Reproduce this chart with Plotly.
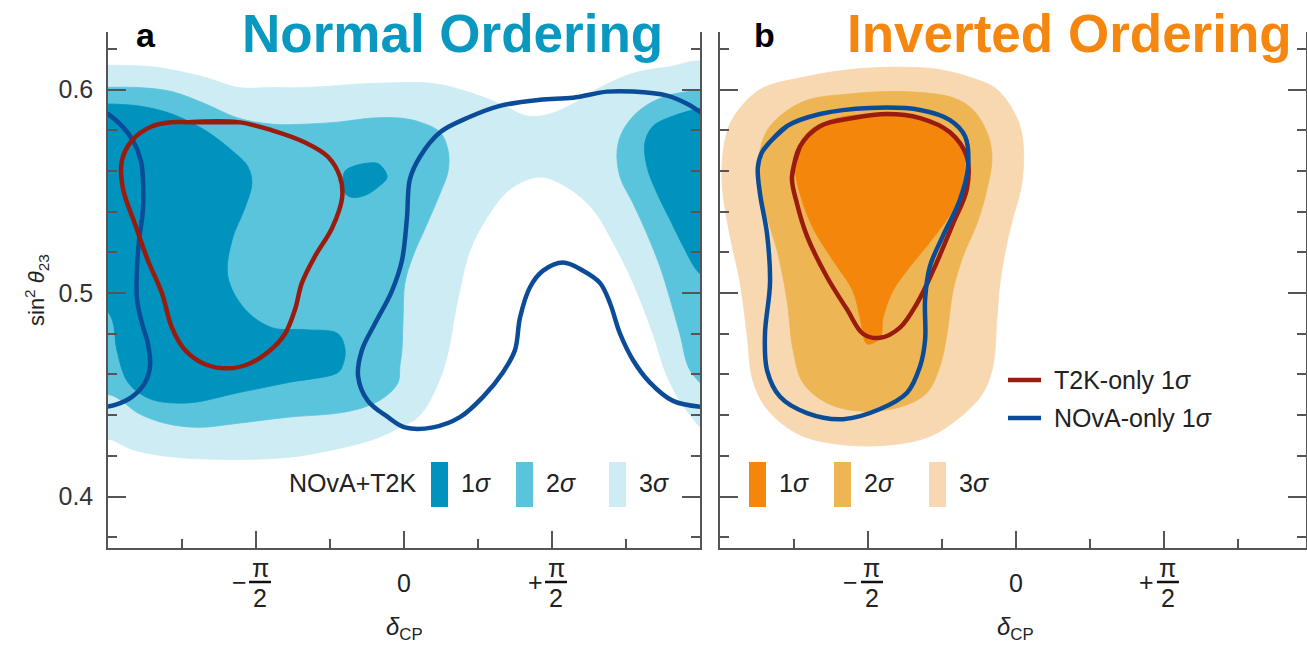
import plotly.graph_objects as go

W, H = 1307, 647

# ---------------- data: x = delta_CP / pi, y = sin^2(theta_23) ----------------
# Panel a (Normal Ordering), NOvA+T2K confidence regions
NO_S3_X = [-1.03, -0.841, -0.672, -0.561, -0.446, -0.334, -0.108, 0.098, 0.213, 0.324,
           0.416, 0.493, 0.571, 0.662, 0.774, 0.889, 1.03, 1.03, 0.956, 0.889,
           0.841, 0.774, 0.706, 0.639, 0.551, 0.459, 0.358, 0.280, 0.223, 0.182,
           0.132, 0.054, -0.014, -0.105, -0.240, -0.409, -0.747, -0.916, -0.993, -1.03]
NO_S3_Y = [0.612, 0.611, 0.606, 0.601, 0.601, 0.601, 0.603, 0.603, 0.599, 0.593,
           0.587, 0.588, 0.593, 0.601, 0.608, 0.611, 0.612, 0.432, 0.442, 0.459,
           0.480, 0.505, 0.525, 0.541, 0.552, 0.557, 0.551, 0.537, 0.521, 0.497,
           0.462, 0.440, 0.434, 0.428, 0.423, 0.419, 0.419, 0.423, 0.428, 0.428]

NO_S2L_X = [-1.03, -0.899, -0.784, -0.672, -0.561, -0.446, -0.334, -0.223, -0.108, -0.014,
            0.054, 0.122, 0.149, 0.149, 0.122, 0.078, 0.030, 0.003, -0.003, -0.007,
            -0.014, -0.020, -0.064, -0.132, -0.223, -0.392, -0.561, -0.696, -0.807, -0.899,
            -0.953, -0.993, -1.03]
NO_S2L_Y = [0.601, 0.601, 0.599, 0.593, 0.586, 0.583, 0.583, 0.584, 0.586, 0.586,
            0.584, 0.579, 0.570, 0.560, 0.549, 0.534, 0.518, 0.505, 0.488, 0.472,
            0.464, 0.456, 0.449, 0.444, 0.441, 0.439, 0.436, 0.434, 0.436, 0.441,
            0.447, 0.450, 0.450]

NO_S2R_X = [1.03, 0.889, 0.797, 0.740, 0.720, 0.730, 0.774, 0.821, 0.865, 0.899, 0.932, 0.966, 1.03]
NO_S2R_Y = [0.600, 0.597, 0.590, 0.580, 0.570, 0.557, 0.544, 0.529, 0.513, 0.497, 0.480, 0.462, 0.452]

NO_S1L_X = [-1.03, -0.899, -0.784, -0.672, -0.581, -0.527, -0.514, -0.537, -0.581, -0.595,
            -0.537, -0.446, -0.334, -0.223, -0.199, -0.206, -0.223, -0.392, -0.561, -0.730,
            -0.858, -0.932, -0.970, -0.986, -1.03]
NO_S1L_Y = [0.593, 0.592, 0.588, 0.580, 0.570, 0.562, 0.554, 0.542, 0.526, 0.508,
            0.492, 0.483, 0.482, 0.480, 0.472, 0.465, 0.461, 0.456, 0.451, 0.446,
            0.448, 0.456, 0.472, 0.487, 0.497]

NO_S1B_X = [-0.199, -0.155, -0.098, -0.081, -0.057, -0.088, -0.132, -0.176, -0.199, -0.206, -0.199]
NO_S1B_Y = [0.560, 0.563, 0.564, 0.563, 0.557, 0.552, 0.548, 0.547, 0.549, 0.555, 0.560]

NO_S1R_X = [1.03, 0.909, 0.841, 0.814, 0.821, 0.855, 0.899, 0.943, 0.990, 1.03]
NO_S1R_Y = [0.592, 0.587, 0.582, 0.574, 0.562, 0.549, 0.536, 0.523, 0.511, 0.506]

# Panel a, NOvA-only 1 sigma (wraps around delta = +-pi)
NOVA_NO_A_X = [1.01, 0.956, 0.889, 0.774, 0.686, 0.571, 0.459, 0.324, 0.213, 0.122,
               0.054, 0.020, 0.010, -0.007, -0.041, -0.098, -0.142, -0.155, -0.122, -0.054,
               0.003, 0.098, 0.189, 0.267, 0.334, 0.375, 0.392, 0.426, 0.470, 0.537,
               0.605, 0.662, 0.696, 0.730, 0.774, 0.831, 0.909, 1.01]
NOVA_NO_A_Y = [0.588, 0.593, 0.597, 0.599, 0.599, 0.596, 0.595, 0.592, 0.586, 0.579,
               0.567, 0.556, 0.537, 0.516, 0.501, 0.485, 0.472, 0.459, 0.447, 0.439,
               0.434, 0.434, 0.439, 0.449, 0.461, 0.472, 0.488, 0.503, 0.511, 0.515,
               0.511, 0.505, 0.495, 0.480, 0.467, 0.456, 0.447, 0.444]
NOVA_NO_B_X = [-1.01, -0.959, -0.916, -0.889, -0.882, -0.882, -0.895, -0.902, -0.902, -0.885,
               -0.865, -0.858, -0.875, -0.919, -0.976, -1.01]
NOVA_NO_B_Y = [0.589, 0.583, 0.575, 0.565, 0.556, 0.541, 0.526, 0.513, 0.497, 0.485,
               0.475, 0.464, 0.456, 0.449, 0.445, 0.444]

# Panel a, T2K-only 1 sigma
T2K_NO_X = [-0.730, -0.561, -0.446, -0.334, -0.257, -0.216, -0.209, -0.243, -0.301, -0.345,
            -0.368, -0.402, -0.459, -0.527, -0.595, -0.672, -0.740, -0.784, -0.818, -0.865,
            -0.909, -0.949, -0.953, -0.919, -0.851, -0.784, -0.730]
T2K_NO_Y = [0.584, 0.584, 0.580, 0.574, 0.567, 0.557, 0.547, 0.532, 0.518, 0.505,
            0.492, 0.480, 0.471, 0.465, 0.463, 0.465, 0.472, 0.483, 0.500, 0.516,
            0.534, 0.551, 0.565, 0.575, 0.582, 0.584, 0.584]

# Panel b (Inverted Ordering)
IO_S3_X = [-0.956, -0.865, -0.720, -0.551, -0.382, -0.267, -0.155, -0.064, 0.003, 0.024,
           0.020, -0.010, -0.030, -0.054, -0.064, -0.078, -0.111, -0.189, -0.301, -0.459,
           -0.618, -0.740, -0.841, -0.889, -0.909, -0.932, -0.966, -0.990, -0.993, -0.983, -0.956]
IO_S3_Y = [0.586, 0.600, 0.606, 0.610, 0.611, 0.610, 0.606, 0.600, 0.586, 0.574,
           0.554, 0.537, 0.525, 0.505, 0.488, 0.464, 0.451, 0.439, 0.429, 0.425,
           0.426, 0.431, 0.443, 0.457, 0.480, 0.505, 0.528, 0.549, 0.562, 0.575, 0.586]

IO_S2_X = [-0.865, -0.831, -0.720, -0.551, -0.382, -0.213, -0.145, -0.098, -0.081, -0.098,
           -0.132, -0.179, -0.213, -0.233, -0.257, -0.301, -0.392, -0.527, -0.639, -0.720,
           -0.753, -0.774, -0.807, -0.841, -0.872, -0.865]
IO_S2_Y = [0.570, 0.582, 0.594, 0.598, 0.599, 0.596, 0.590, 0.579, 0.567, 0.551,
           0.534, 0.518, 0.501, 0.480, 0.464, 0.451, 0.444, 0.442, 0.446, 0.456,
           0.472, 0.497, 0.521, 0.537, 0.554, 0.570]

IO_S1_X = [-0.740, -0.696, -0.605, -0.470, -0.348, -0.233, -0.179, -0.179, -0.213, -0.291,
           -0.358, -0.416, -0.449, -0.459, -0.503, -0.527, -0.551, -0.618, -0.686, -0.730,
           -0.747, -0.740]
IO_S1_Y = [0.570, 0.580, 0.586, 0.588, 0.586, 0.580, 0.570, 0.554, 0.541, 0.525,
           0.513, 0.501, 0.488, 0.478, 0.475, 0.488, 0.501, 0.516, 0.532, 0.549,
           0.562, 0.570]

T2K_IO_X = [-0.757, -0.730, -0.662, -0.551, -0.436, -0.324, -0.223, -0.166, -0.166, -0.213,
            -0.280, -0.334, -0.392, -0.459, -0.517, -0.571, -0.639, -0.706, -0.740, -0.757]
T2K_IO_Y = [0.557, 0.572, 0.582, 0.586, 0.588, 0.586, 0.579, 0.567, 0.551, 0.534,
            0.511, 0.495, 0.483, 0.478, 0.480, 0.492, 0.508, 0.528, 0.544, 0.557]

NOVA_IO_X = [-0.855, -0.774, -0.662, -0.493, -0.324, -0.223, -0.172, -0.162, -0.189, -0.247,
             -0.291, -0.307, -0.307, -0.324, -0.368, -0.459, -0.584, -0.706, -0.797, -0.841,
             -0.848, -0.831, -0.841, -0.865, -0.872, -0.855]
NOVA_IO_Y = [0.570, 0.582, 0.588, 0.591, 0.590, 0.585, 0.577, 0.562, 0.546, 0.528,
             0.513, 0.497, 0.477, 0.464, 0.451, 0.443, 0.438, 0.441, 0.449, 0.462,
             0.480, 0.505, 0.529, 0.549, 0.562, 0.570]

# ticks
X_MAJOR = [-0.5, 0.0, 0.5]
X_MINOR = [-0.75, -0.25, 0.25, 0.75]
Y_MAJOR = [0.4, 0.5, 0.6]
Y_MAJOR_TEXT = ["0.4", "0.5", "0.6"]
Y_MINOR = [0.38, 0.42, 0.44, 0.46, 0.48, 0.52, 0.54, 0.56, 0.58, 0.62]
SIGMA_LABELS = ["1<i>σ</i>", "2<i>σ</i>", "3<i>σ</i>"]

# ---------------- styles ----------------
NO_COLORS = ["#0093bd", "#5bc4dd", "#cdecf3"]
IO_COLORS = ["#f5860c", "#edb553", "#f7d8b0"]
T2K_COLOR = "#9a1c0e"
NOVA_COLOR = "#0b4c98"
AX_COLOR = "#555555"
FONT = "Liberation Sans, Arial, sans-serif"

fig = go.Figure()


def add_fill(x, y, color, xa, ya):
    fig.add_trace(go.Scatter(x=x, y=y, mode="lines", fill="toself", fillcolor=color,
                             line=dict(width=0.8, color=color, shape="spline", smoothing=1.0),
                             hoverinfo="skip", showlegend=False, xaxis=xa, yaxis=ya))


def add_line(x, y, color, xa, ya, closed=False):
    if closed:
        x = list(x) + list(x[1:2])
        y = list(y) + list(y[1:2])
    fig.add_trace(go.Scatter(x=x, y=y, mode="lines",
                             line=dict(width=4.5, color=color, shape="spline", smoothing=1.0),
                             hoverinfo="skip", showlegend=False, xaxis=xa, yaxis=ya))


# panel a
add_fill(NO_S3_X, NO_S3_Y, NO_COLORS[2], "x", "y")
add_fill(NO_S2L_X, NO_S2L_Y, NO_COLORS[1], "x", "y")
add_fill(NO_S2R_X, NO_S2R_Y, NO_COLORS[1], "x", "y")
add_fill(NO_S1L_X, NO_S1L_Y, NO_COLORS[0], "x", "y")
add_fill(NO_S1R_X, NO_S1R_Y, NO_COLORS[0], "x", "y")
add_fill(NO_S1B_X, NO_S1B_Y, NO_COLORS[0], "x", "y")
add_line(NOVA_NO_A_X, NOVA_NO_A_Y, NOVA_COLOR, "x", "y")
add_line(NOVA_NO_B_X, NOVA_NO_B_Y, NOVA_COLOR, "x", "y")
add_line(T2K_NO_X, T2K_NO_Y, T2K_COLOR, "x", "y", closed=True)

# panel b
add_fill(IO_S3_X, IO_S3_Y, IO_COLORS[2], "x2", "y2")
add_fill(IO_S2_X, IO_S2_Y, IO_COLORS[1], "x2", "y2")
add_fill(IO_S1_X, IO_S1_Y, IO_COLORS[0], "x2", "y2")
add_line(T2K_IO_X, T2K_IO_Y, T2K_COLOR, "x2", "y2", closed=True)
add_line(NOVA_IO_X, NOVA_IO_Y, NOVA_COLOR, "x2", "y2", closed=True)


def px(v):
    return v / W


def py(v):
    return 1 - v / H


YDOM = [py(548), py(32)]
YRANGE = [0.3747, 0.6283]

xcommon = dict(showline=True, linecolor=AX_COLOR, linewidth=1.5, ticks="inside",
               tickvals=X_MAJOR, ticklen=17, tickwidth=1.5, tickcolor=AX_COLOR,
               showticklabels=False, showgrid=False, zeroline=False, mirror=False,
               minor=dict(tickvals=X_MINOR, ticks="inside", ticklen=9, tickwidth=1.5,
                          tickcolor=AX_COLOR, showgrid=False))
ycommon = dict(showline=True, linecolor=AX_COLOR, linewidth=1.5, ticks="inside",
               tickvals=Y_MAJOR, ticktext=Y_MAJOR_TEXT, ticklen=18, tickwidth=1.5,
               tickcolor=AX_COLOR, showgrid=False, zeroline=False, mirror="ticks",
               range=YRANGE, domain=YDOM,
               tickfont=dict(family=FONT, size=25, color="#333333"),
               minor=dict(tickvals=Y_MINOR, ticks="inside", ticklen=9, tickwidth=1.5,
                          tickcolor=AX_COLOR, showgrid=False))

fig.update_layout(
    width=W, height=H, autosize=False,
    margin=dict(l=0, r=0, t=0, b=0),
    paper_bgcolor="white", plot_bgcolor="white",
    showlegend=False,
    font=dict(family=FONT, color="#222222"),
    xaxis=dict(domain=[px(108), px(700)], range=[-1, 1], anchor="y", **xcommon),
    yaxis=dict(anchor="x", showticklabels=True, ticklabelstandoff=8, **ycommon),
    xaxis2=dict(domain=[px(720), px(1306)], range=[-1, 0.98], anchor="y2", **xcommon),
    yaxis2=dict(anchor="x2", showticklabels=False, **ycommon),
)

ann = []
shapes = []
TICK_FONT = dict(family=FONT, size=25, color="#222222")

# fraction-style x tick labels
for xa in ["x", "x2"]:
    for t in X_MAJOR:
        if t == 0:
            ann.append(dict(x=t, y=py(583), xref=xa, yref="paper", text="0", showarrow=False,
                            font=TICK_FONT, xanchor="center", yanchor="middle"))
            continue
        sign = "−" if t < 0 else "+"
        ann.append(dict(x=t, y=py(582), xref=xa, yref="paper", text=sign, showarrow=False,
                        font=TICK_FONT, xanchor="center", yanchor="middle", xshift=-17))
        ann.append(dict(x=t, y=py(568), xref=xa, yref="paper", text="π", showarrow=False,
                        font=TICK_FONT, xanchor="center", yanchor="middle", xshift=4))
        ann.append(dict(x=t, y=py(598), xref=xa, yref="paper", text="2", showarrow=False,
                        font=TICK_FONT, xanchor="center", yanchor="middle", xshift=4))
        shapes.append(dict(type="line", xref=xa, yref="paper", xsizemode="pixel", xanchor=t,
                           x0=-7, x1=15, y0=py(582), y1=py(582),
                           line=dict(color="#111111", width=2.5)))
    ann.append(dict(x=0, y=py(628), xref=xa, yref="paper",
                    text="<i>δ</i><sub>CP</sub>", showarrow=False,
                    font=dict(family=FONT, size=24, color="#222222"),
                    xanchor="center", yanchor="middle"))

# y axis title
ann.append(dict(x=px(36), y=py(290), xref="paper", yref="paper",
                text="sin<sup>2</sup> <i>θ</i><sub>23</sub>", textangle=-90, showarrow=False,
                font=dict(family=FONT, size=22, color="#222222"),
                xanchor="center", yanchor="middle"))

# panel letters and titles
ann.append(dict(x=px(146), y=py(35), xref="paper", yref="paper", text="<b>a</b>",
                showarrow=False, font=dict(family=FONT, size=34, color="#000000"),
                xanchor="center", yanchor="middle"))
ann.append(dict(x=px(764), y=py(35), xref="paper", yref="paper", text="<b>b</b>",
                showarrow=False, font=dict(family=FONT, size=34, color="#000000"),
                xanchor="center", yanchor="middle"))
ann.append(dict(x=px(452), y=py(33), xref="paper", yref="paper", text="<b>Normal Ordering</b>",
                showarrow=False, font=dict(family=FONT, size=53, color="#0898c0"),
                xanchor="center", yanchor="middle"))
ann.append(dict(x=px(1069), y=py(33), xref="paper", yref="paper", text="<b>Inverted Ordering</b>",
                showarrow=False, font=dict(family=FONT, size=53, color="#f5870f"),
                xanchor="center", yanchor="middle"))

LEG_FONT = dict(family=FONT, size=25, color="#222222")
# panel a sigma legend
ann.append(dict(x=px(418), y=py(483), xref="paper", yref="paper", text="NOvA+T2K",
                showarrow=False, font=LEG_FONT, xanchor="right", yanchor="middle"))
for rx, tx, col, lab in zip([431, 516, 609], [459, 544, 637], NO_COLORS, SIGMA_LABELS):
    shapes.append(dict(type="rect", xref="paper", yref="paper", x0=px(rx), x1=px(rx + 17),
                       y0=py(507), y1=py(462), fillcolor=col, line=dict(width=0)))
    ann.append(dict(x=px(tx), y=py(483), xref="paper", yref="paper", text=lab,
                    showarrow=False, font=LEG_FONT, xanchor="left", yanchor="middle"))
# panel b sigma legend
for rx, tx, col, lab in zip([749, 834, 929], [777, 862, 957], IO_COLORS, SIGMA_LABELS):
    shapes.append(dict(type="rect", xref="paper", yref="paper", x0=px(rx), x1=px(rx + 17),
                       y0=py(507), y1=py(462), fillcolor=col, line=dict(width=0)))
    ann.append(dict(x=px(tx), y=py(483), xref="paper", yref="paper", text=lab,
                    showarrow=False, font=LEG_FONT, xanchor="left", yanchor="middle"))
# line legend
for ly, col, lab in [(380, T2K_COLOR, "T2K-only 1<i>σ</i>"), (418, NOVA_COLOR, "NOvA-only 1<i>σ</i>")]:
    shapes.append(dict(type="line", xref="paper", yref="paper", x0=px(1008), x1=px(1041),
                       y0=py(ly), y1=py(ly), line=dict(color=col, width=4.5)))
    ann.append(dict(x=px(1052), y=py(ly), xref="paper", yref="paper", text=lab,
                    showarrow=False, font=LEG_FONT, xanchor="left", yanchor="middle"))

fig.update_layout(annotations=ann, shapes=shapes)
fig.write_html("out.html", config={"displayModeBar": False},
               post_script="document.body.style.margin='0px';document.body.style.overflow='hidden';")
